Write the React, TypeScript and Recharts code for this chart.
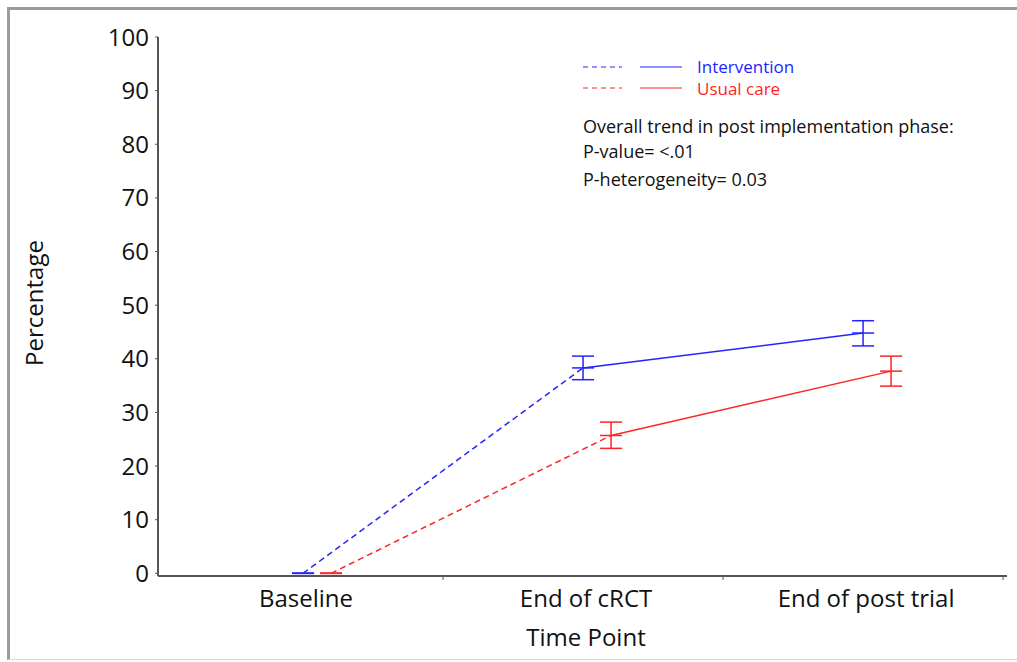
import {
  ComposedChart, Line, XAxis, YAxis, ErrorBar,
} from 'recharts'

const timePoints = ['Baseline', 'End of cRCT', 'End of post trial']
const interventionMean = [0, 38.3, 44.8]
const interventionLow = [0, 36.1, 42.4]
const interventionHigh = [0, 40.5, 47.1]
const usualCareMean = [0, 25.7, 37.7]
const usualCareLow = [0, 23.3, 34.9]
const usualCareHigh = [0, 28.2, 40.5]
const yTicks = [0, 10, 20, 30, 40, 50, 60, 70, 80, 90, 100]
const xTicks = [1, 1.5, 2, 2.5, 3, 3.5]

const BLUE = '#2323ff'
const RED = '#ff2424'
const AXIS = '#555'
const FONT = '"Open Sans", sans-serif'

type Pt = { x: number; y: number; err: [number, number] }

function toPoints(mean: number[], low: number[], high: number[], shift: number): Pt[] {
  return timePoints.map((_, i) => ({
    x: i + 1 + shift,
    y: mean[i],
    err: [mean[i] - low[i], high[i] - mean[i]],
  }))
}

const intPts = toPoints(interventionMean, interventionLow, interventionHigh, 0)
const ucPts = toPoints(usualCareMean, usualCareLow, usualCareHigh, 0.1)

const meanTick = (color: string) => (p: any) => (
  <line
    key={`m-${p.index}`}
    x1={p.cx - 11} x2={p.cx + 11} y1={p.cy} y2={p.cy}
    stroke={color} strokeWidth={1.5}
  />
)

function XTick(props: any) {
  const { x, y, payload } = props
  const v = payload.value as number
  if (Number.isInteger(v)) {
    return (
      <text x={x + 3} y={y + 23} textAnchor="middle" fontSize={24} fontFamily={FONT} fill="#111">
        {timePoints[v - 1]}
      </text>
    )
  }
  return <line x1={x} x2={x} y1={y - 8} y2={y - 4} stroke={AXIS} strokeWidth={1} />
}

export default function App() {
  return (
    <div style={{
      position: 'absolute', left: 0, top: 0, width: 1017, height: 662,
      overflow: 'hidden', background: '#fff',
    }}>
      <div style={{
        position: 'absolute', left: 7, top: 7, width: 1010, height: 653,
        borderTop: '3px solid #9b9b9b', borderLeft: '3px solid #9b9b9b',
        borderBottom: '1px solid #d8d8d8', boxSizing: 'border-box',
      }} />
      <div style={{ position: 'absolute', left: 0, top: 0 }}>
        <ComposedChart width={1017} height={662} margin={{ top: 37, right: 10, bottom: 0, left: 0 }}>
          <XAxis
            type="number"
            dataKey="x"
            domain={[0.482, 3.514]}
            ticks={xTicks}
            tick={<XTick />}
            tickLine={false}
            axisLine={{ stroke: AXIS, strokeWidth: 2 }}
            height={86}
            allowDataOverflow
          />
          <YAxis
            type="number"
            domain={[-0.5, 100]}
            ticks={yTicks}
            width={158}
            tickSize={3}
            tickMargin={6}
            tickLine={{ stroke: AXIS }}
            axisLine={{ stroke: AXIS, strokeWidth: 2 }}
            tick={{ fontSize: 24, fontFamily: FONT, fill: '#111' }}
            allowDataOverflow
          />
          <Line data={intPts.slice(0, 2)} dataKey="y" stroke={BLUE} strokeWidth={1.5}
            strokeDasharray="6 4" dot={false} isAnimationActive={false} />
          <Line data={intPts.slice(1, 3)} dataKey="y" stroke={BLUE} strokeWidth={1.5}
            dot={false} isAnimationActive={false} />
          <Line data={ucPts.slice(0, 2)} dataKey="y" stroke={RED} strokeWidth={1.5}
            strokeDasharray="6 4" dot={false} isAnimationActive={false} />
          <Line data={ucPts.slice(1, 3)} dataKey="y" stroke={RED} strokeWidth={1.5}
            dot={false} isAnimationActive={false} />
          <Line data={intPts} dataKey="y" stroke="none" dot={meanTick(BLUE)} isAnimationActive={false}>
            <ErrorBar dataKey="err" direction="y" width={11} stroke={BLUE} strokeWidth={1.5} isAnimationActive={false} />
          </Line>
          <Line data={ucPts} dataKey="y" stroke="none" dot={meanTick(RED)} isAnimationActive={false}>
            <ErrorBar dataKey="err" direction="y" width={11} stroke={RED} strokeWidth={1.5} isAnimationActive={false} />
          </Line>
        </ComposedChart>
      </div>
      <svg width={1017} height={662} style={{ position: 'absolute', left: 0, top: 0, pointerEvents: 'none' }}>
        <text x={33} y={303} transform="rotate(-90 33 303)" textAnchor="middle" dominantBaseline="central"
          fontSize={24} fontFamily={FONT} fill="#111">Percentage</text>
        <text x={586} y={646} textAnchor="middle" fontSize={24} fontFamily={FONT} fill="#111">Time Point</text>
        <line x1={583} x2={622} y1={67} y2={67} stroke={BLUE} strokeDasharray="5 4" />
        <line x1={640} x2={682} y1={67} y2={67} stroke={BLUE} />
        <text x={697} y={73} fontSize={17} fontFamily={FONT} fill={BLUE}>Intervention</text>
        <line x1={583} x2={622} y1={88} y2={88} stroke={RED} strokeDasharray="5 4" />
        <line x1={640} x2={682} y1={88} y2={88} stroke={RED} />
        <text x={697} y={95} fontSize={17} fontFamily={FONT} fill={RED}>Usual care</text>
        <text x={583} y={133} fontSize={18} fontFamily={FONT} fill="#111">Overall trend in post implementation phase:</text>
        <text x={583} y={158} fontSize={18} fontFamily={FONT} fill="#111">P-value= &lt;.01</text>
        <text x={583} y={186} fontSize={18} fontFamily={FONT} fill="#111">P-heterogeneity= 0.03</text>
      </svg>
    </div>
  )
}
